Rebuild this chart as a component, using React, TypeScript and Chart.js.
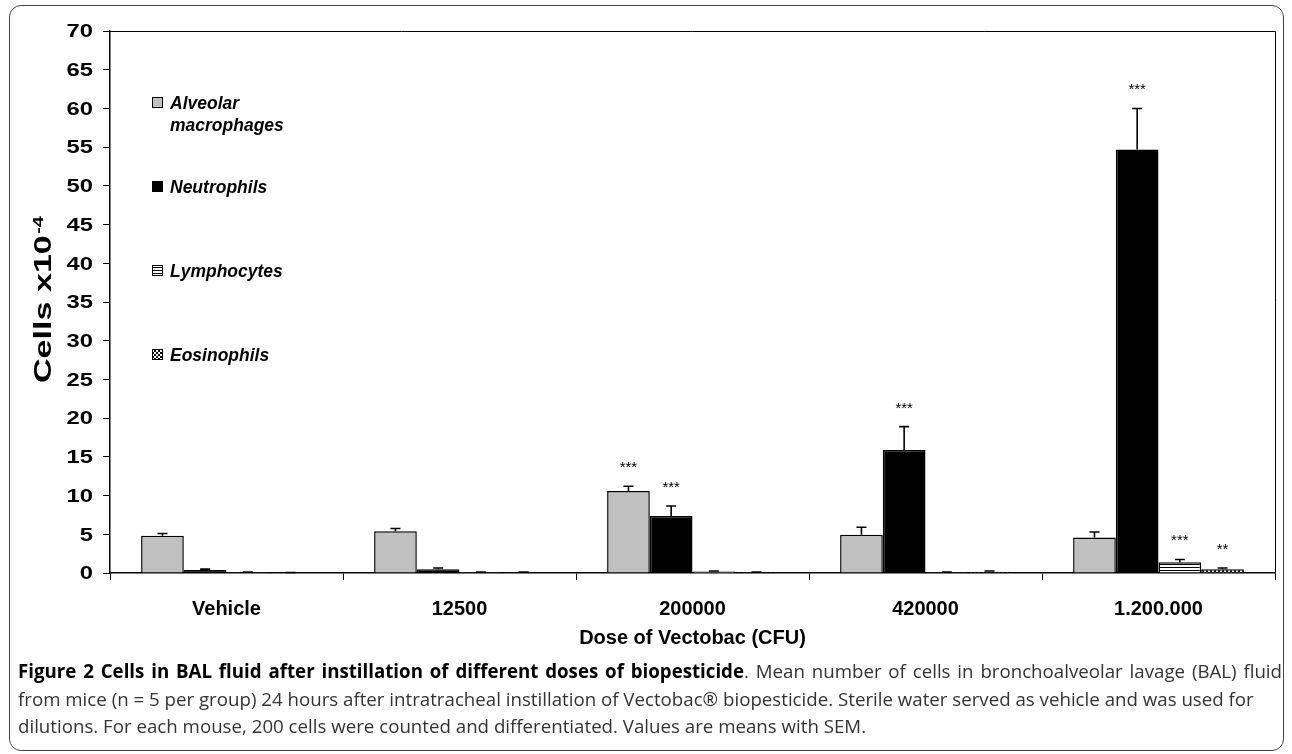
import React, { useEffect, useRef } from 'react';
import { Chart, registerables } from 'chart.js';

Chart.register(...registerables);

const categories = ['Vehicle', '12500', '200000', '420000', '1.200.000'];
const seriesNames = ['Alveolar macrophages', 'Neutrophils', 'Lymphocytes', 'Eosinophils'];
const macrophages = [4.8, 5.4, 10.6, 4.95, 4.6];
const macrophagesSem = [0.3, 0.35, 0.6, 0.95, 0.7];
const neutrophils = [0.4, 0.5, 7.35, 15.9, 54.7];
const neutrophilsSem = [0.1, 0.15, 1.3, 3.0, 5.3];
const lymphocytes = [0.1, 0.1, 0.2, 0.1, 1.4];
const lymphocytesSem = [0.03, 0.03, 0.05, 0.03, 0.35];
const eosinophils = [0.05, 0.08, 0.1, 0.15, 0.5];
const eosinophilsSem = [0.02, 0.03, 0.03, 0.1, 0.15];
const macrophagesSig = ['', '', '***', '', ''];
const neutrophilsSig = ['', '', '***', '***', '***'];
const lymphocytesSig = ['', '', '', '', '***'];
const eosinophilsSig = ['', '', '', '', '**'];
const yMin = 0;
const yMax = 70;
const yStep = 5;
const xTitle = 'Dose of Vectobac (CFU)';
const yTitleMain = 'Cells x10';
const yTitleSup = '-4';

const FONT = '"Liberation Sans", Arial, Helvetica, sans-serif';

function makeStripes(): CanvasPattern {
  const c = document.createElement('canvas');
  c.width = 4; c.height = 3;
  const g = c.getContext('2d')!;
  g.fillStyle = '#fff'; g.fillRect(0, 0, 4, 3);
  g.fillStyle = '#000'; g.fillRect(0, 0, 4, 1);
  return g.createPattern(c, 'repeat')!;
}

function makeChecker(): CanvasPattern {
  const c = document.createElement('canvas');
  c.width = 4; c.height = 4;
  const g = c.getContext('2d')!;
  g.fillStyle = '#fff'; g.fillRect(0, 0, 4, 4);
  g.fillStyle = '#000'; g.fillRect(0, 0, 2, 2); g.fillRect(2, 2, 2, 2);
  return g.createPattern(c, 'repeat')!;
}

export default function App() {
  const ref = useRef<HTMLCanvasElement>(null);

  useEffect(() => {
    const canvas = ref.current!;
    const stripes = makeStripes();
    const checker = makeChecker();
    const fills: any[] = ['#c0c0c0', '#000000', stripes, checker];
    const values = [macrophages, neutrophils, lymphocytes, eosinophils];
    const sems = [macrophagesSem, neutrophilsSem, lymphocytesSem, eosinophilsSem];
    const sigs = [macrophagesSig, neutrophilsSig, lymphocytesSig, eosinophilsSig];

    const overlay = {
      id: 'overlay',
      afterDatasetsDraw(chart: any) {
        const ctx = chart.ctx as CanvasRenderingContext2D;
        const ys = chart.scales.y;
        const area = chart.chartArea;
        ctx.save();
        // plot frame top & right
        ctx.strokeStyle = '#000';
        ctx.lineWidth = 1;
        ctx.beginPath();
        ctx.moveTo(area.left, area.top + 0.5);
        ctx.lineTo(area.right + 0.5, area.top + 0.5);
        ctx.lineTo(area.right + 0.5, area.bottom);
        ctx.stroke();

        // y tick labels (slightly wide, as in the original)
        ctx.fillStyle = '#000';
        ctx.font = `bold 19px ${FONT}`;
        ctx.textAlign = 'right';
        ctx.textBaseline = 'middle';
        ys.ticks.forEach((t: any) => {
          const py = ys.getPixelForValue(t.value);
          ctx.save();
          ctx.translate(area.left - 17, py + 1);
          ctx.scale(1.25, 1);
          ctx.fillText(String(t.value), 0, 0);
          ctx.restore();
        });

        // error bars + significance
        ctx.lineWidth = 1.6;
        ctx.strokeStyle = '#000';
        ctx.fillStyle = '#000';
        ctx.font = `15px ${FONT}`;
        ctx.textAlign = 'center';
        ctx.textBaseline = 'alphabetic';
        values.forEach((vals, di) => {
          const meta = chart.getDatasetMeta(di);
          meta.data.forEach((el: any, j: number) => {
            const yE = ys.getPixelForValue(vals[j] + sems[di][j]);
            ctx.beginPath();
            ctx.moveTo(el.x, el.y);
            ctx.lineTo(el.x, yE);
            ctx.moveTo(el.x - 5, yE);
            ctx.lineTo(el.x + 5, yE);
            ctx.stroke();
            if (sigs[di][j]) {
              ctx.fillText(sigs[di][j], el.x, yE - 14);
            }
          });
        });

        // legend
        const lx = area.left + 42;
        const boxTops = [area.top + 66, area.top + 150, area.top + 234, area.top + 318];
        ctx.font = `italic bold 17.5px ${FONT}`;
        ctx.textAlign = 'left';
        ctx.textBaseline = 'alphabetic';
        seriesNames.forEach((name, i) => {
          const by = boxTops[i];
          ctx.fillStyle = fills[i];
          ctx.fillRect(lx, by, 11, 11);
          ctx.strokeStyle = '#000';
          ctx.lineWidth = 1;
          ctx.strokeRect(lx + 0.5, by + 0.5, 10, 10);
          ctx.fillStyle = '#000';
          const words = name.split(' ');
          if (words.length > 1) {
            ctx.fillText(words[0], lx + 18, by + 11.5);
            ctx.fillText(words.slice(1).join(' '), lx + 18, by + 33.5);
          } else {
            ctx.fillText(name, lx + 18, by + 12);
          }
        });

        // x title
        ctx.fillStyle = '#000';
        ctx.font = `bold 20px ${FONT}`;
        ctx.textAlign = 'center';
        ctx.textBaseline = 'middle';
        ctx.fillText(xTitle, (area.left + area.right) / 2, 638);

        // y title
        ctx.translate(51, 383);
        ctx.rotate(-Math.PI / 2);
        ctx.scale(1.42, 1);
        ctx.textAlign = 'left';
        ctx.textBaseline = 'alphabetic';
        ctx.font = `bold 24px ${FONT}`;
        ctx.fillText(yTitleMain, 0, 0);
        const w = ctx.measureText(yTitleMain).width;
        ctx.font = `bold 14px ${FONT}`;
        ctx.fillText(yTitleSup, w + 1, -8);
        ctx.restore();
      },
    };

    const chart = new Chart(canvas, {
      type: 'bar',
      data: {
        labels: categories,
        datasets: seriesNames.map((name, i) => ({
          label: name,
          data: values[i],
          backgroundColor: fills[i],
          borderColor: '#000',
          borderWidth: 1.5,
          categoryPercentage: 0.733,
          barPercentage: 1,
        })),
      },
      options: {
        responsive: false,
        animation: false,
        events: [],
        layout: { padding: { left: 0, right: 17, top: 31, bottom: 0 } },
        plugins: {
          legend: { display: false },
          tooltip: { enabled: false },
          title: { display: false },
        },
        scales: {
          x: {
            grid: { display: true, drawOnChartArea: false, drawTicks: true, tickLength: 7, color: '#000', offset: true },
            border: { display: true, color: '#000', width: 1.5 },
            ticks: { color: '#000', font: { family: FONT, size: 20, weight: 'bold' }, padding: 17, maxRotation: 0, autoSkip: false },
            afterFit: (s: any) => { s.height = 87; },
          },
          y: {
            min: yMin,
            max: yMax,
            ticks: { stepSize: yStep, display: false },
            grid: { drawOnChartArea: false, drawTicks: true, tickLength: 7, color: '#000' },
            border: { display: true, color: '#000', width: 1.5 },
            afterFit: (s: any) => { s.width = 110; },
          },
        },
      },
      plugins: [overlay],
    } as any);
    return () => chart.destroy();
  }, []);

  return (
    <div style={{ position: 'fixed', left: 0, top: 0, width: 1292, height: 754, background: '#fff', overflow: 'hidden' }}>
      <div style={{ position: 'absolute', left: 9, top: 5, width: 1275, height: 746, border: '1.5px solid #444', borderRadius: 12, boxSizing: 'border-box' }} />
      <canvas ref={ref} width={1292} height={660} style={{ position: 'absolute', left: 0, top: 0, width: 1292, height: 660 }} />
      <div style={{ position: 'absolute', left: 18, top: 657, width: 1264, fontFamily: '"Open Sans", sans-serif', fontSize: 18.7, lineHeight: '27.5px', color: '#333' }}>
        <div style={{ whiteSpace: 'nowrap', textAlign: 'justify', textAlignLast: 'justify' as any }}>
          <b style={{ color: '#000' }}>Figure 2 Cells in BAL fluid after instillation of different doses of biopesticide</b>. Mean number of cells in bronchoalveolar lavage (BAL) fluid
        </div>
        <div style={{ whiteSpace: 'nowrap' }}>
          from mice (n = 5 per group) 24 hours after intratracheal instillation of Vectobac® biopesticide. Sterile water served as vehicle and was used for
        </div>
        <div style={{ whiteSpace: 'nowrap' }}>
          dilutions. For each mouse, 200 cells were counted and differentiated. Values are means with SEM.
        </div>
      </div>
    </div>
  );
}
